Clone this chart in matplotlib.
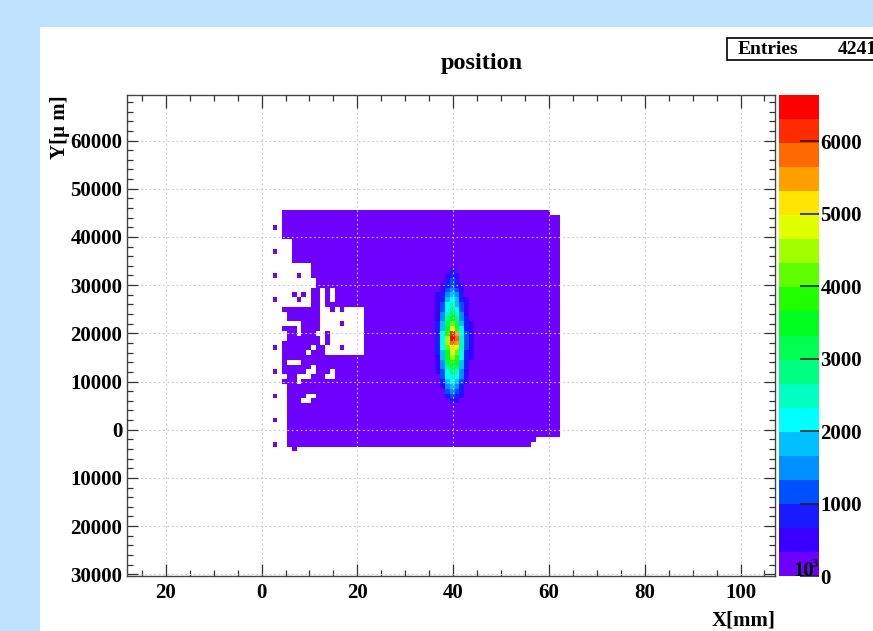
import numpy as np
import matplotlib
matplotlib.use("Agg")
import matplotlib.pyplot as plt
from matplotlib.colors import ListedColormap, BoundaryNorm
from matplotlib.patches import Rectangle
from matplotlib.ticker import FixedLocator, MultipleLocator

plt.rcParams["font.family"] = ["Liberation Serif", "DejaVu Serif"]
plt.rcParams["font.weight"] = "bold"

# ---- data ----
# binning: 1 mm in X, 1000 um in Y
x_first_edge = 2.3
y_first_edge = -4500.0
n_cols = 60
n_rows = 50  # rows k = -4 .. 45 (thousands of um)

base_count = 150  # purple plateau (first colour band)

# left, irregular part of the filled area: columns 0..19, rows k = 45 (top) .. -4 (bottom)
left_part = [
    "..##################",  # 45
    "..##################",
    "..##################",
    "#.##################",  # 42
    "..##################",
    "..##################",
    "....################",  # 39
    "....################",
    "#...################",  # 37
    "....################",
    "....################",
    "........############",  # 34
    "........############",
    "#....#..############",  # 32
    ".........###########",
    ".........###########",
    "........##.#.#######",  # 29
    "....#.#.##.#.#######",
    "#....#..##.#.#######",  # 27
    "........##.#########",
    "..########..#.#....#",  # 25
    "...#######.........#",
    "...#######.........#",
    "......####....#....#",  # 22
    "..###.####.........#",
    "...##.###..#.......#",  # 20
    "...#######.#.......#",
    "..########.#.......#",
    "#.######.##...#....#",  # 17
    "..#####.###........#",
    "..##################",  # 15
    "..#...##############",
    "..######.###########",
    "#.#####..###.#######",  # 12
    "...##...###..#######",
    "..###.##############",  # 10
    "...#################",
    "...#################",
    "#..####..###########",  # 7
    "...###..############",
    "...#################",  # 5
    "...#################",
    "...#################",
    "#..#################",  # 2
    "...#################",
    "...#################",  # 0
    "...#################",
    "...#################",
    "#..#################",  # -3
    "....#...............",  # -4
]
left_top_row = 45

# right, rectangular part: (first column, last column, row)
right_top = [(20, 57, 45), (58, 59, 44)]
right_bottom = [(20, 53, -3), (54, 54, -2), (55, 59, -1)]

# beam spot: columns 34..41, rows 33 (top) .. 6 (bottom), counts
peak_first_col = 34
peak_top_row = 33
peak_counts = [
    [150, 150, 150, 830, 150, 150, 150, 150],
    [150, 150, 500, 830, 500, 150, 150, 150],
    [150, 150, 830, 1160, 830, 150, 150, 150],
    [150, 500, 830, 1160, 830, 500, 150, 150],
    [150, 500, 1160, 1490, 1160, 500, 150, 150],
    [500, 830, 1490, 1830, 1490, 830, 150, 150],
    [500, 830, 1830, 2160, 1830, 830, 500, 150],
    [500, 1160, 2160, 2490, 1830, 1160, 500, 150],
    [500, 1160, 2160, 2820, 2160, 1160, 500, 150],
    [500, 1490, 2490, 3150, 2490, 1490, 500, 150],
    [500, 1490, 2820, 3490, 2820, 1490, 830, 150],
    [830, 1830, 3150, 4150, 3150, 1830, 830, 500],
    [830, 1830, 3490, 4810, 3820, 2160, 830, 500],
    [830, 2160, 3820, 6140, 5480, 2160, 1160, 500],
    [830, 2160, 4480, 6470, 5810, 2490, 1160, 500],
    [830, 2160, 4480, 5810, 5480, 2490, 1160, 500],
    [830, 2160, 4150, 5140, 4810, 2490, 1160, 500],
    [830, 1830, 3490, 4810, 4150, 2160, 830, 500],
    [500, 1830, 3490, 4480, 3820, 2160, 830, 500],
    [500, 1490, 3150, 3820, 3490, 1830, 830, 150],
    [500, 1490, 2820, 3150, 3150, 1830, 830, 150],
    [500, 1160, 2160, 2820, 2490, 1490, 500, 150],
    [150, 1160, 2160, 2490, 2160, 1490, 500, 150],
    [150, 830, 1830, 2160, 1830, 1160, 500, 150],
    [150, 500, 1490, 1830, 1490, 830, 150, 150],
    [150, 150, 1160, 1490, 1160, 830, 150, 150],
    [150, 150, 830, 1160, 830, 500, 150, 150],
    [150, 150, 150, 830, 500, 150, 150, 150],
]

palette = [
    "#6E00FF", "#3A00FF", "#1A1AFF", "#0050FF", "#0090FF",
    "#00C0FF", "#00FFFF", "#00FFC0", "#00FF80", "#00FF50",
    "#00FF20", "#20FF00", "#60FF00", "#A0FF00", "#E0FF00",
    "#FFE600", "#FFA000", "#FF6A00", "#FF2A00", "#FF0000",
]
z_max = 6640

x_ticks = [-20, 0, 20, 40, 60, 80, 100]
x_ticklabels = ["20", "0", "20", "40", "60", "80", "100"]
y_ticks = [-30000, -20000, -10000, 0, 10000, 20000, 30000, 40000, 50000, 60000]
y_ticklabels = ["30000", "20000", "10000", "0", "10000", "20000",
                "30000", "40000", "50000", "60000"]
z_ticks = [0, 1000, 2000, 3000, 4000, 5000, 6000]

# ---- build the histogram ----
H = np.zeros((n_rows, n_cols))
for r, line in enumerate(left_part):
    k = left_top_row - r
    for i, ch in enumerate(line):
        if ch == "#":
            H[k + 4, i] = base_count

for i in range(20, n_cols):
    top = [t for a, b, t in right_top if a <= i <= b][0]
    bot = [t for a, b, t in right_bottom if a <= i <= b][0]
    H[bot + 4:top + 5, i] = base_count

for r, vals in enumerate(peak_counts):
    k = peak_top_row - r
    for c, v in enumerate(vals):
        H[k + 4, peak_first_col + c] = v

x_edges = x_first_edge + np.arange(n_cols + 1)
y_edges = y_first_edge + 1000.0 * np.arange(n_rows + 1)
Hm = np.ma.masked_equal(H, 0)

cmap = ListedColormap(palette)
norm = BoundaryNorm(np.linspace(0, z_max, len(palette) + 1), cmap.N)

# ---- figure ----
W, Hpx = 873, 631
fig = plt.figure(figsize=(W / 100, Hpx / 100), dpi=100, facecolor="#BFE3FE")
fig.add_artist(Rectangle((40 / W, 0), 1, 1 - 27 / Hpx, transform=fig.transFigure,
                         facecolor="white", edgecolor="none", zorder=-1))

ax = fig.add_axes([127 / W, 1 - 576 / Hpx, (775 - 127) / W, (576 - 95) / Hpx])
mesh = ax.pcolormesh(x_edges, y_edges, Hm, cmap=cmap, norm=norm, zorder=1)

ax.set_xlim(-28.1, 107.2)
ax.set_ylim(-30350, 69440)
ax.xaxis.set_major_locator(FixedLocator(x_ticks))
ax.set_xticklabels(x_ticklabels)
ax.xaxis.set_minor_locator(MultipleLocator(5))
ax.yaxis.set_major_locator(FixedLocator(y_ticks))
ax.set_yticklabels(y_ticklabels)
ax.yaxis.set_minor_locator(MultipleLocator(2000))

ax.tick_params(which="both", direction="in", top=True, right=True,
               color="#333333", width=0.9, labelsize=15)
ax.tick_params(axis="x", which="major", length=9, pad=5)
ax.tick_params(axis="x", which="minor", length=4.5)
ax.tick_params(axis="y", which="major", length=8, pad=3.5)
ax.tick_params(axis="y", which="minor", length=4.5)
for lab in ax.get_xticklabels() + ax.get_yticklabels():
    lab.set_fontweight("bold")

ax.set_axisbelow(False)
ax.grid(True, which="major", color="#c8c8c8", linestyle=(0, (1.5, 2.5)), linewidth=0.8)
for sp in ax.spines.values():
    sp.set_color("#444444")
    sp.set_linewidth(1.0)

# colour bar
cax = fig.add_axes([779 / W, 1 - 576 / Hpx, 40 / W, (576 - 95) / Hpx])
cbar = fig.colorbar(mesh, cax=cax, ticks=z_ticks)
cbar.outline.set_visible(False)
cax.tick_params(direction="in", length=14, width=1.2, color="#222222",
                labelsize=15, pad=1)
cax.minorticks_off()
for lab in cax.get_yticklabels():
    lab.set_fontweight("bold")

# texts
fig.text(482 / W, 1 - 63 / Hpx, "position", ha="center", va="center",
         fontsize=17.5, fontweight="bold")
fig.text(60 / W, 1 - 95 / Hpx, "Y[\u03bc m]", rotation=90, ha="center", va="top",
         fontsize=15, fontweight="bold")
fig.text(775 / W, 1 - 610 / Hpx, "X[mm]", ha="right", va="top",
         fontsize=15, fontweight="bold")
fig.text(793 / W, 1 - 576 / Hpx, "10", ha="left", va="baseline",
         fontsize=15, fontweight="bold")
fig.text(812 / W, 1 - 567 / Hpx, "3", ha="left", va="baseline",
         fontsize=9, fontweight="bold")

# stats box
fig.add_artist(Rectangle((727 / W, 1 - 60 / Hpx), 0.3, 22 / Hpx, transform=fig.transFigure,
                         facecolor="white", edgecolor="black", linewidth=1.2, zorder=2))
fig.text(738 / W, 1 - 49 / Hpx, "Entries", ha="left", va="center",
         fontsize=14, fontweight="bold", zorder=3)
fig.text(838 / W, 1 - 49 / Hpx, "42411", ha="left", va="center",
         fontsize=14, fontweight="bold", zorder=3)

fig.savefig("out.png", dpi=100, facecolor=fig.get_facecolor())
